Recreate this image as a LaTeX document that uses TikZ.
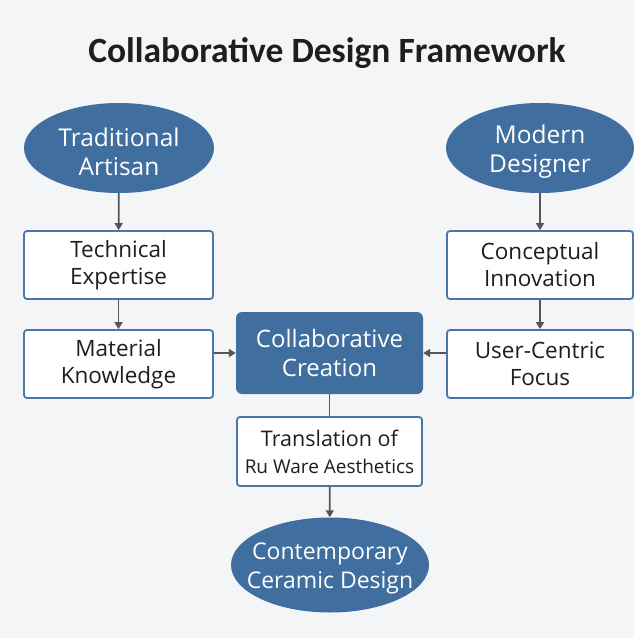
\documentclass[tikz,border=0pt]{standalone}
\usepackage{fontspec}
\setmainfont{Open Sans}
\newfontfamily\titlefont{Carlito}
\usetikzlibrary{shapes.geometric,arrows.meta}
\definecolor{bgc}{HTML}{F4F5F7}
\definecolor{blu}{HTML}{3F6E9F}
\definecolor{edge}{HTML}{4B77A8}
\definecolor{arr}{HTML}{555555}
\definecolor{ink}{HTML}{1E1E1E}
\tikzset{
  oval/.style={ellipse, fill=blu, draw=none, inner sep=0pt,
    label={[text=white, align=center, yshift=-3.5pt, font=\fontsize{24.5}{29}\selectfont]center:#1}},
  wbox/.style={rectangle, rounded corners=3pt, fill=white, draw=edge, line width=1.8pt,
    text=ink, align=center, font=\fontsize{22.5}{27}\selectfont, inner sep=0pt},
  bbox/.style={rectangle, rounded corners=6pt, fill=blu, draw=none,
    text=white, align=center, font=\fontsize{24}{29}\selectfont, inner sep=0pt},
  link/.style={draw=arr, line width=1.8pt, -{Triangle[length=7pt,width=8pt]}},
  plain/.style={draw=arr, line width=1.8pt}
}
\begin{document}
\begin{tikzpicture}[x=1pt,y=-1pt]
  \fill[bgc] (0,0) rectangle (634,638);
  \useasboundingbox (0,0) rectangle (634,638);

  \node[text=ink, font=\titlefont\bfseries\fontsize{35.5}{40}\selectfont] (title) at (327,53) {Collaborative Design Framework};

  \node[oval={Traditional\\Artisan}, minimum width=190pt, minimum height=90pt] (art) at (119,148) {};
  \node[oval={Modern\\Designer}, minimum width=188pt, minimum height=90pt] (des) at (540,148) {};

  \node[wbox, minimum width=189pt, minimum height=68pt] (tech) at (118.5,265) {Technical\\Expertise};
  \node[wbox, minimum width=189pt, minimum height=68pt] (mat) at (118.5,364) {Material\\Knowledge};
  \node[wbox, minimum width=186pt, minimum height=68pt] (con) at (540,265) {Conceptual\\Innovation};
  \node[wbox, minimum width=186pt, minimum height=68pt] (usr) at (540,364) {User-Centric\\Focus};

  \node[bbox, minimum width=187pt, minimum height=82pt] (col) at (329.5,353) {Collaborative\\Creation};
  \node[wbox, minimum width=185pt, minimum height=69pt] (tra) at (329.5,451.5)
    {{\fontsize{21.5}{27}\selectfont Translation of}\\{\fontsize{19}{27}\selectfont Ru Ware Aesthetics}};
  \node[oval={{\fontsize{23}{28}\selectfont Contemporary}\\{\fontsize{23}{28}\selectfont Ceramic Design}}, minimum width=198pt, minimum height=95pt] (cer) at (330,565) {};

  \draw[link] (art) -- (tech);
  \draw[link] (tech) -- (mat);
  \draw[link] (des) -- (con);
  \draw[link] (con) -- (usr);
  \draw[link] (mat.east |- col.west) -- (col.west);
  \draw[link] (usr.west |- col.east) -- (col.east);
  \draw[plain] (col) -- (tra);
  \draw[link] (tra) -- (cer);
\end{tikzpicture}
\end{document}
